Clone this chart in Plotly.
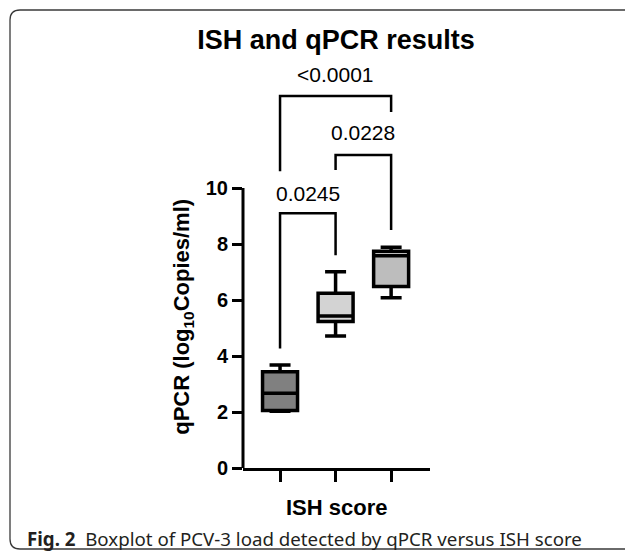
import plotly.graph_objects as go

# ---- data ----
groups = ["ISH 1", "ISH 2", "ISH 3"]
positions = [0, 1, 2]
lower_fence = [2.03, 4.71, 6.08]
q1_vals = [2.05, 5.23, 6.48]
medians = [2.67, 5.43, 7.58]
q3_vals = [3.44, 6.24, 7.74]
upper_fence = [3.68, 7.01, 7.88]
fill_colors = ["#808080", "#d3d3d3", "#bdbdbd"]

# significance brackets
br_left = [0, 1, 0]
br_right = [1, 2, 2]
br_top = [9.1, 11.18, 13.29]
br_left_bottom = [4.27, 10.64, 10.6]
br_right_bottom = [7.6, 8.5, 12.71]
br_label_y = [9.82, 12.0, 14.04]
br_labels = ["0.0245", "0.0228", "<0.0001"]

y_ticks = [0, 2, 4, 6, 8, 10]

W, H = 625, 552
ML, MR, MT, MB = 243, 195, 60, 84
PW = W - ML - MR
PH = H - MT - MB


def px2paper(px, py):
    return (px - ML) / PW, (H - MB - py) / PH


fig = go.Figure()
for i in range(len(groups)):
    fig.add_trace(go.Box(
        x=[positions[i]], q1=[q1_vals[i]], median=[medians[i]], q3=[q3_vals[i]],
        lowerfence=[lower_fence[i]], upperfence=[upper_fence[i]],
        name=groups[i], width=0.63, whiskerwidth=0.6,
        fillcolor=fill_colors[i], line=dict(color="black", width=3.5),
        boxpoints=False, hoverinfo="skip"))

shapes = []
annotations = []
for i in range(len(br_labels)):
    xl, xr = br_left[i], br_right[i]
    path = (f"M {xl},{br_left_bottom[i]} L {xl},{br_top[i]} "
            f"L {xr},{br_top[i]} L {xr},{br_right_bottom[i]}")
    shapes.append(dict(type="path", path=path, xref="x", yref="y",
                       line=dict(color="black", width=2.5)))
    annotations.append(dict(x=(xl + xr) / 2, y=br_label_y[i], xref="x", yref="y",
                            text=br_labels[i], showarrow=False,
                            xanchor="center", yanchor="middle",
                            font=dict(family="Liberation Sans, Arial", size=21, color="black")))

# y-axis line only from 0 to 10
shapes.append(dict(type="line", xref="paper", yref="y", x0=0, x1=0, y0=-0.05, y1=10,
                   line=dict(color="black", width=3)))

# figure frame (rounded left corners)
r = 10
pts = [(W + 5, 10), (10 + r, 10), (10, 10 + r), (10, H - 3 - r), (10 + r, H - 3), (W + 5, H - 3)]
P = [px2paper(*p) for p in pts]
c1 = px2paper(10, 10)
c2 = px2paper(10, H - 3)
frame = (f"M {P[0][0]},{P[0][1]} L {P[1][0]},{P[1][1]} "
         f"Q {c1[0]},{c1[1]} {P[2][0]},{P[2][1]} "
         f"L {P[3][0]},{P[3][1]} "
         f"Q {c2[0]},{c2[1]} {P[4][0]},{P[4][1]} "
         f"L {P[5][0]},{P[5][1]}")
shapes.append(dict(type="path", path=frame, xref="paper", yref="paper",
                   line=dict(color="#3a3a3a", width=1.3)))

# y-axis title
yt_x, _ = px2paper(183, 0)
annotations.append(dict(x=yt_x, y=5.4, xref="paper", yref="y",
                        text="qPCR (log<sub>10</sub>Copies/ml)", textangle=-90,
                        showarrow=False, xanchor="center", yanchor="middle",
                        font=dict(family="Liberation Sans, Arial", size=22,
                                  color="black", weight="bold")))
# x-axis title
_, xt_y = px2paper(0, 507)
annotations.append(dict(x=0.5, y=xt_y, xref="paper", yref="paper",
                        text="ISH score", showarrow=False,
                        xanchor="center", yanchor="middle",
                        font=dict(family="Liberation Sans, Arial", size=22,
                                  color="black", weight="bold")))
# caption
cx, cy = px2paper(25, 538)
annotations.append(dict(x=cx, y=cy, xref="paper", yref="paper",
                        text="<b>Fig. 2</b>\u00a0\u00a0Boxplot of PCV-3 load detected by qPCR versus ISH score",
                        showarrow=False, xanchor="left", yanchor="middle",
                        font=dict(family="Noto Sans", size=18.7, color="#231f20")))

fig.update_layout(
    width=W, height=H,
    margin=dict(l=ML, r=MR, t=MT, b=MB, pad=0),
    paper_bgcolor="white", plot_bgcolor="white",
    showlegend=False,
    title=dict(text="<b>ISH and qPCR results</b>", x=336 / W, xref="container",
               y=1 - 40 / H, yref="container", xanchor="center", yanchor="middle",
               font=dict(family="Liberation Sans, Arial", size=27, color="black")),
    xaxis=dict(range=[-0.667, 2.70], showline=True, linecolor="black", linewidth=3,
               ticks="outside", ticklen=11, tickwidth=2.5, tickcolor="black",
               tickvals=positions, showticklabels=False, showgrid=False,
               zeroline=False),
    yaxis=dict(range=[0, PH / 28], showline=False, ticks="outside", ticklen=10,
               tickwidth=2.5, tickcolor="black", tickvals=y_ticks,
               tickfont=dict(family="Liberation Sans, Arial", size=20,
                             color="black", weight="bold"),
               showgrid=False, zeroline=False),
    shapes=shapes, annotations=annotations,
)

fig.write_html("out.html", config={"displayModeBar": False},
               post_script="document.body.style.margin='0';document.body.style.padding='0';")
